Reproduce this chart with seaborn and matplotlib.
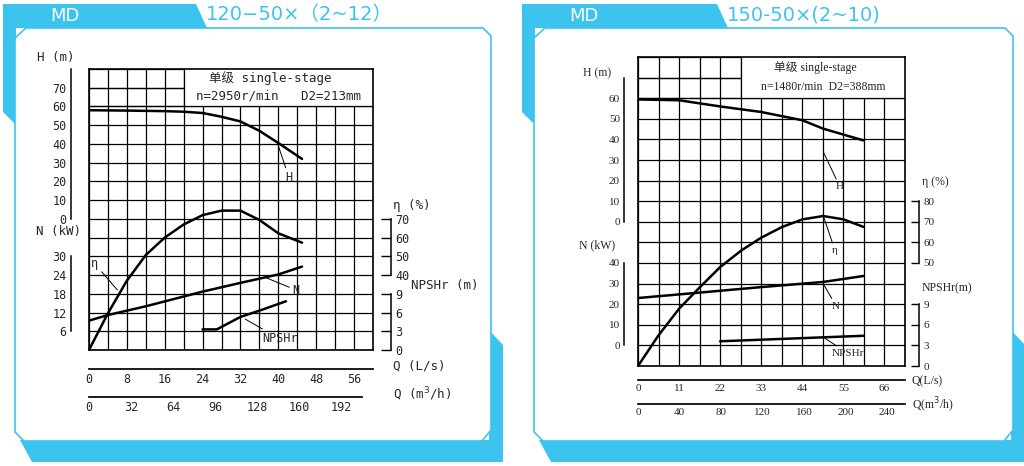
import matplotlib

matplotlib.use("Agg")

import matplotlib.pyplot as plt
import numpy as np
import seaborn as sns
from matplotlib.patches import Polygon, Rectangle

sns.set_theme(style="white")
plt.rcParams["font.family"] = ["DejaVu Sans Mono", "Noto Sans CJK SC"]

BLUE = "#3cc4ef"
DPI = 100

# ---- left chart: MD120-50x(2~12), Q in L/s ----
L_H_Q = [0, 8, 16, 20, 24, 28, 32, 36, 40, 45]
L_H = [58, 57.8, 57.5, 57.2, 56.5, 54.5, 52, 47, 40.5, 32]
L_ETA_Q = [0.2, 4, 8, 12, 16, 20, 24, 28, 32, 36, 40, 45]
L_ETA = [1, 19.6, 37, 50.7, 60, 67, 72, 74.4, 74.4, 69.4, 62.3, 57.3]
L_N_Q = [0, 4, 12, 24, 32, 40, 45]
L_N = [9.4, 11.2, 14, 18.7, 21.5, 24.2, 26.7]
L_NPSH_Q = [24, 27, 32, 36, 41.6]
L_NPSH = [3.3, 3.3, 5.3, 6.3, 7.8]

# ---- right chart: MD150-50x(2~10) ----
R_H_Q = [0, 11, 22, 33, 44, 49.6, 60.4]
R_H = [59.4, 59, 56, 53.3, 49.3, 45.2, 39.5]
R_ETA_Q = [0, 5.5, 11, 16.6, 22, 27.6, 33, 38.6, 44.1, 49.6, 55, 60.4]
R_ETA = [0, 14.9, 27.8, 38.3, 48, 56, 62.3, 67.5, 71.2, 72.8, 71.2, 67.5]
R_N_Q = [0, 16.3, 33, 49.6, 60.4]
R_N = [23, 25.6, 28.3, 30.8, 33.7]
R_NPSH_Q = [22, 60.4]
R_NPSH = [3.6, 4.4]

LEFT = dict(
    rect=(89, 69, 373, 350), qmax=60, cell=4, ncols=15,
    h=(L_H_Q, L_H), eta=(L_ETA_Q, L_ETA), n=(L_N_Q, L_N), npsh=(L_NPSH_Q, L_NPSH),
    h_lim=(-70, 80), h_ticks=[0, 10, 20, 30, 40, 50, 60, 70, 80], h_bounds=(0, 80),
    n_lim=(0, 90), n_ticks=[6, 12, 18, 24, 30], n_bounds=(6, 30),
    eta_lim=(0, 150), eta_ticks=[40, 50, 60, 70], eta_bounds=(40, 70),
    npsh_ticks=[0, 3, 6, 9],
    q_ticks=np.arange(0, 57, 8), q_minor=4,
    m3_max=208, m3_ticks=np.arange(0, 193, 32), m3_minor=16,
    box_q=20, spine_off=18, q_off=(19, 47),
    family=["DejaVu Sans Mono", "Noto Sans CJK SC"], fs=8.5,
    header=("单级 single-stage", "n=2950r/min   D2=213mm"),
    labels=dict(h=(40, 10.9, 41.5, 9.2, "H"), eta=(6, 3.2, 0.5, 4.6, "η"),
                n=(37, 3.9, 43, 3.2, "N"), npsh=(33, 1.65, 36.5, 0.6, "NPSHr")),
    titles=[(37, 58, "H (m)"), (36, 232, "N (kW)"), (393, 205, "η (%)"),
            (411, 286, "NPSHr (m)"), (393, 366, "Q (L/s)"), (393, 394, "Q (m$^3$/h)")],
)
RIGHT = dict(
    rect=(638, 57, 905, 366), qmax=71.5, cell=5.5, ncols=13,
    h=(R_H_Q, R_H), eta=(R_ETA_Q, R_ETA), n=(R_N_Q, R_N), npsh=(R_NPSH_Q, R_NPSH),
    h_lim=(-70, 80), h_ticks=[0, 10, 20, 30, 40, 50, 60, 70], h_bounds=(0, 70),
    n_lim=(-10, 140), n_ticks=[0, 10, 20, 30, 40], n_bounds=(0, 40),
    eta_lim=(0, 150), eta_ticks=[50, 60, 70, 80], eta_bounds=(50, 80),
    npsh_ticks=[0, 3, 6, 9],
    q_ticks=np.arange(0, 67, 11), q_minor=5.5,
    m3_max=257, m3_ticks=np.arange(0, 241, 40), m3_minor=20,
    box_q=27.5, spine_off=14, q_off=(14, 38),
    family=["Liberation Serif", "Noto Sans CJK SC"], fs=8,
    header=("单级 single-stage", "n=1480r/min  D2=388mm"),
    labels=dict(h=(49.6, 10.4, 53, 8.7, "H"), eta=(49.6, 7.3, 52, 5.6, "η"),
                n=(49.6, 4.0, 52, 2.9, "N"), npsh=(49.6, 1.4, 52, 0.6, "NPSHr")),
    titles=[(583, 73, "H (m)"), (579, 245, "N (kW)"), (922, 182, "η (%)"),
            (922, 288, "NPSHr(m)"), (912, 381, "Q(L/s)"), (912, 405, "Q(m$^3$/h)")],
)


def px_rect(x0, y0, x1, y1):
    return [x0 / 1024, (466 - y1) / 466, (x1 - x0) / 1024, (y1 - y0) / 466]


def pts(px):
    return px * 72 / DPI


def scale_axes(fig, rect, qmax, side, ylim, ticks, bounds, offset, fs, family, tick_labels=None):
    ax = fig.add_axes(rect, facecolor="none")
    ax.set_xlim(0, qmax)
    ax.set_ylim(*ylim)
    for s in ax.spines.values():
        s.set_visible(False)
    sp = ax.spines[side]
    sp.set_visible(True)
    sp.set_color("black")
    sp.set_linewidth(1.1)
    sp.set_position(("outward", pts(offset)))
    sp.set_bounds(*bounds)
    ax.set_xticks([])
    ax.set_yticks(ticks)
    if tick_labels is not None:
        ax.set_yticklabels(tick_labels)
    if side == "right":
        ax.yaxis.tick_right()
    ax.tick_params(axis="y", direction="in", length=pts(offset) * 0.55, width=1.0,
                   labelsize=fs, pad=3, color="black")
    for t in ax.get_yticklabels():
        t.set_family(family)
    return ax


def draw_chart(fig, deco, cfg):
    x0, y0, x1, y1 = cfg["rect"]
    rect = px_rect(x0, y0, x1, y1)
    fam, fs, qmax = cfg["family"], cfg["fs"], cfg["qmax"]

    # grid (Q vs row units)
    ax = fig.add_axes(rect, facecolor="white")
    ax.set_xlim(0, qmax)
    ax.set_ylim(0, 15)
    ax.set_xticks(np.arange(cfg["ncols"] + 1) * cfg["cell"])
    ax.set_yticks(np.arange(16))
    ax.grid(True, color="black", lw=0.9)
    ax.tick_params(length=0, labelbottom=False, labelleft=False)
    for s in ax.spines.values():
        s.set_color("black")
        s.set_linewidth(1.2)
    ax.add_patch(Rectangle((cfg["box_q"], 13), qmax - cfg["box_q"], 2, facecolor="white",
                           edgecolor="none", zorder=1))
    ax.vlines(cfg["box_q"], 13, 15, color="black", lw=0.9, zorder=2)
    ax.hlines(13, 0, qmax, color="black", lw=0.9, zorder=2)
    ax.hlines(14, 0, cfg["box_q"], color="black", lw=0.9, zorder=2)
    xm = (cfg["box_q"] + qmax) / 2
    ax.text(xm - qmax * 0.03, 14.5, cfg["header"][0], ha="center", va="center", fontsize=fs + 0.5, family=fam, zorder=3)
    ax.text(xm, 13.55, cfg["header"][1], ha="center", va="center", fontsize=fs + 0.5, family=fam, zorder=3)

    so = cfg["spine_off"]
    top = max(cfg["h_ticks"])
    h_labels = [str(t) if t < top else "" for t in cfg["h_ticks"]]
    ax_h = scale_axes(fig, rect, qmax, "left", cfg["h_lim"], cfg["h_ticks"], cfg["h_bounds"], so, fs, fam, h_labels)
    ax_n = scale_axes(fig, rect, qmax, "left", cfg["n_lim"], cfg["n_ticks"], cfg["n_bounds"], so, fs, fam)
    ax_e = scale_axes(fig, rect, qmax, "right", cfg["eta_lim"], cfg["eta_ticks"], cfg["eta_bounds"], so, fs, fam)
    ax_p = scale_axes(fig, rect, qmax, "right", (0, 45), cfg["npsh_ticks"], (0, 9), so, fs, fam)

    lw = 1.8
    sns.lineplot(x=cfg["h"][0], y=cfg["h"][1], ax=ax_h, color="black", lw=lw, sort=False)
    sns.lineplot(x=cfg["n"][0], y=cfg["n"][1], ax=ax_n, color="black", lw=lw, sort=False)
    sns.lineplot(x=cfg["eta"][0], y=cfg["eta"][1], ax=ax_e, color="black", lw=lw, sort=False)
    sns.lineplot(x=cfg["npsh"][0], y=cfg["npsh"][1], ax=ax_p, color="black", lw=lw, sort=False)

    for key, (qa, ra, qt, rt, lab) in cfg["labels"].items():
        ax.annotate(lab, xy=(qa, ra), xytext=(qt, rt), fontsize=fs, family=fam, zorder=4,
                    va="center", ha="left",
                    arrowprops=dict(arrowstyle="-", lw=0.7, color="black", shrinkA=0, shrinkB=0))

    # axis titles in figure pixels
    for tx, ty, lab in cfg["titles"]:
        deco.text(tx, ty, lab, fontsize=fs + 0.5, family=fam, va="center", ha="left")

    # Q axes below
    for i, (lim, ticks, minor, bound) in enumerate([
        (qmax, cfg["q_ticks"], cfg["q_minor"], qmax),
        (qmax * 3.6, cfg["m3_ticks"], cfg["m3_minor"], cfg["m3_max"]),
    ]):
        qa = fig.add_axes(rect, facecolor="none")
        qa.set_xlim(0, lim)
        qa.set_yticks([])
        for s in qa.spines.values():
            s.set_visible(False)
        sp = qa.spines["bottom"]
        sp.set_visible(True)
        sp.set_color("black")
        sp.set_position(("outward", pts(cfg["q_off"][i])))
        sp.set_bounds(0, bound)
        qa.set_xticks(ticks)
        qa.set_xticks(np.arange(0, bound + 0.01, minor), minor=True)
        qa.tick_params(axis="x", which="both", direction="in", length=5, width=1.0,
                       labelsize=fs, pad=3, color="black")
        for t in qa.get_xticklabels():
            t.set_family(fam)


fig = plt.figure(figsize=(10.24, 4.66), dpi=DPI)
deco = fig.add_axes([0, 0, 1, 1])
deco.set_xlim(0, 1024)
deco.set_ylim(466, 0)
deco.axis("off")
deco.set_zorder(-1)
for dx, tab_w, title in [(0, 196, "120−50×（2~12）"), (519, 198, "150-50×(2~10)")]:
    w = 497 if dx == 0 else 500
    polys = [
        [(3, 4), (tab_w, 4), (tab_w + 11, 28), (3, 28)],
        [(3, 28), (16, 28), (16, 125), (3, 112)],
        [(w - 8, 330), (w + 6, 345), (w + 6, 462), (32, 462), (20, 440), (w - 8, 440)],
    ]
    for p in polys:
        deco.add_patch(Polygon([(x + dx, y) for x, y in p], closed=True, facecolor=BLUE, edgecolor="none"))
    inner = [(15, 38), (26, 28), (w - 14, 28), (w - 6, 36), (w - 6, 430), (w - 15, 441), (24, 441), (15, 432)]
    deco.add_patch(Polygon([(x + dx, y) for x, y in inner], closed=True, facecolor="white",
                           edgecolor=BLUE, lw=1.2))
    deco.text(dx + 50, 16, "MD", color="white", fontsize=13, va="center",
              family=["DejaVu Sans", "Noto Sans CJK SC"])
    deco.text(dx + tab_w + 10, 15, title, color=BLUE, fontsize=14, va="center",
              family=["DejaVu Sans", "Noto Sans CJK SC"])

draw_chart(fig, deco, LEFT)
draw_chart(fig, deco, RIGHT)

fig.savefig("out.png", dpi=DPI)
